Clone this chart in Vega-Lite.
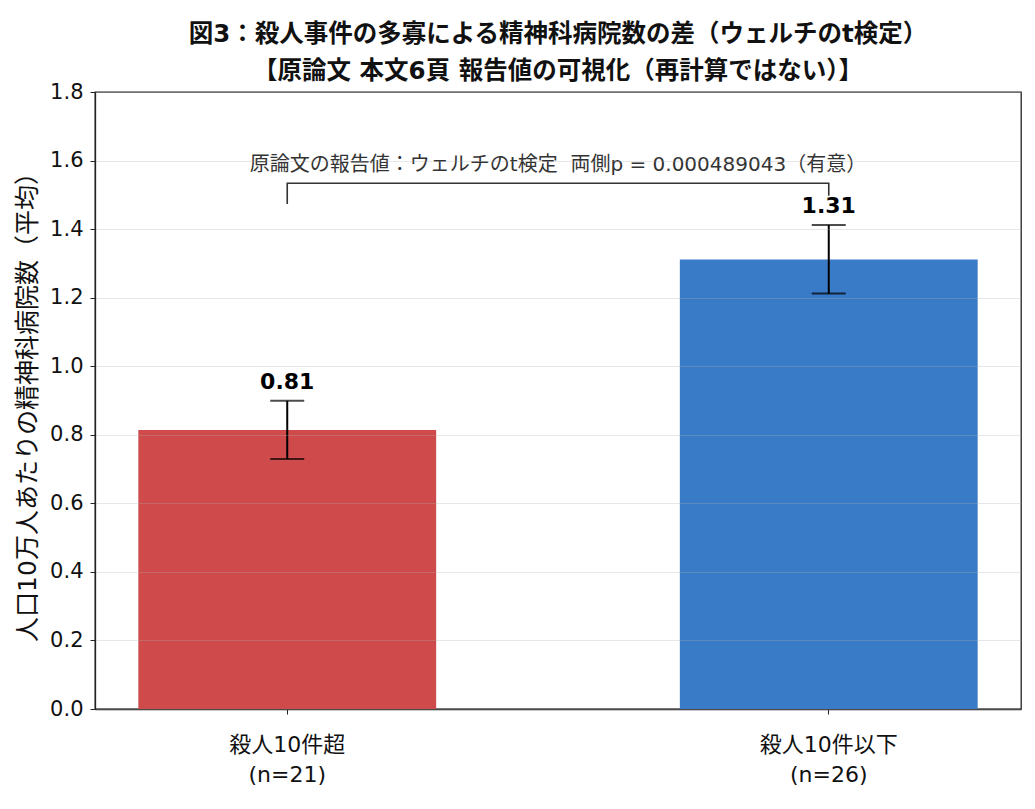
{
  "$schema": "https://vega.github.io/schema/vega-lite/v6.json",
  "autosize": {"type": "none"},
  "padding": {"left": 95, "top": 92, "right": 14, "bottom": 100},
  "width": 926,
  "height": 617,
  "background": "white",
  "config": {
    "font": "DejaVu Sans, Noto Sans CJK JP",
    "view": {"stroke": "#222", "strokeWidth": 1.3}
  },
  "title": {
    "text": ["図3：殺人事件の多寡による精神科病院数の差（ウェルチのt検定）", "【原論文 本文6頁 報告値の可視化（再計算ではない）】"],
    "font": "DejaVu Sans, Noto Sans CJK JP",
    "fontSize": 24.5,
    "fontWeight": "bold",
    "color": "#111",
    "anchor": "middle",
    "lineHeight": 37,
    "offset": -3
  },
  "datasets": {
    "bars": [
      {"group": "殺人10件超\n(n=21)", "mean": 0.814, "lo": 0.729, "hi": 0.899, "label": "0.81"},
      {"group": "殺人10件以下\n(n=26)", "mean": 1.311, "lo": 1.212, "hi": 1.412, "label": "1.31"}
    ],
    "bracket": [
      {"group": "殺人10件超\n(n=21)", "y": 1.473, "step": 1},
      {"group": "殺人10件超\n(n=21)", "y": 1.534, "step": 2},
      {"group": "殺人10件以下\n(n=26)", "y": 1.534, "step": 3},
      {"group": "殺人10件以下\n(n=26)", "y": 1.497, "step": 4}
    ]
  },
  "layer": [
    {
      "data": {"name": "bars"},
      "mark": {"type": "bar"},
      "encoding": {
        "x": {
          "field": "group",
          "type": "nominal",
          "sort": null,
          "title": null,
          "scale": {"paddingInner": 0.45, "paddingOuter": 0.08},
          "axis": {
            "labelAngle": 0,
            "labelExpr": "split(datum.label, '\\n')",
            "labelFont": "DejaVu Sans, Noto Sans CJK JP",
            "labelFontSize": 22,
            "labelLineHeight": 30,
            "labelColor": "#111",
            "labelPadding": 20,
            "domainColor": "#222",
            "domainWidth": 1.3,
            "tickColor": "#222",
            "tickSize": 5,
            "grid": false
          }
        },
        "y": {
          "field": "mean",
          "type": "quantitative",
          "scale": {"domain": [0, 1.8]},
          "title": "人口10万人あたりの精神科病院数（平均）",
          "axis": {
            "values": [0, 0.2, 0.4, 0.6, 0.8, 1.0, 1.2, 1.4, 1.6, 1.8],
            "format": ".1f",
            "labelFont": "DejaVu Sans, Noto Sans CJK JP",
            "labelFontSize": 21,
            "labelColor": "#111",
            "labelPadding": 7,
            "tickSize": 5,
            "tickColor": "#222",
            "domainColor": "#222",
            "domainWidth": 1.3,
            "titleFont": "DejaVu Sans, Noto Sans CJK JP",
            "titleFontSize": 25,
            "titleFontWeight": "normal",
            "titleColor": "#111",
            "titlePadding": 9,
            "gridColor": "#b0b0b0",
            "gridOpacity": 0.3,
            "zindex": 1
          }
        },
        "color": {
          "field": "group",
          "type": "nominal",
          "scale": {"domain": ["殺人10件超\n(n=21)", "殺人10件以下\n(n=26)"], "range": ["#CF4A4A", "#3A7BC8"]},
          "legend": null
        }
      }
    },
    {
      "data": {"name": "bars"},
      "mark": {"type": "rule", "color": "#000", "strokeWidth": 2},
      "encoding": {
        "x": {"field": "group", "type": "nominal", "sort": null},
        "y": {"field": "lo", "type": "quantitative"},
        "y2": {"field": "hi"}
      }
    },
    {
      "data": {"name": "bars"},
      "mark": {"type": "tick", "color": "#000", "thickness": 2, "size": 34},
      "encoding": {
        "x": {"field": "group", "type": "nominal", "sort": null},
        "y": {"field": "lo", "type": "quantitative"}
      }
    },
    {
      "data": {"name": "bars"},
      "mark": {"type": "tick", "color": "#000", "thickness": 2, "size": 34},
      "encoding": {
        "x": {"field": "group", "type": "nominal", "sort": null},
        "y": {"field": "hi", "type": "quantitative"}
      }
    },
    {
      "data": {"name": "bars"},
      "mark": {"type": "text", "baseline": "bottom", "dy": -7, "fontSize": 22, "fontWeight": "bold", "color": "#000", "font": "DejaVu Sans, Noto Sans CJK JP"},
      "encoding": {
        "x": {"field": "group", "type": "nominal", "sort": null},
        "y": {"field": "hi", "type": "quantitative"},
        "text": {"field": "label"}
      }
    },
    {
      "data": {"name": "bracket"},
      "mark": {"type": "line", "color": "#333", "strokeWidth": 1.6, "interpolate": "linear"},
      "encoding": {
        "x": {"field": "group", "type": "nominal", "sort": null},
        "y": {"field": "y", "type": "quantitative"},
        "order": {"field": "step"}
      }
    },
    {
      "data": {"values": [{"y": 1.587, "note": "原論文の報告値：ウェルチのt検定\u00a0 両側p = 0.000489043（有意）"}]},
      "mark": {"type": "text", "fontSize": 20, "color": "#333", "font": "DejaVu Sans, Noto Sans CJK JP", "baseline": "middle"},
      "encoding": {
        "y": {"field": "y", "type": "quantitative"},
        "text": {"field": "note"}
      }
    }
  ]
}
